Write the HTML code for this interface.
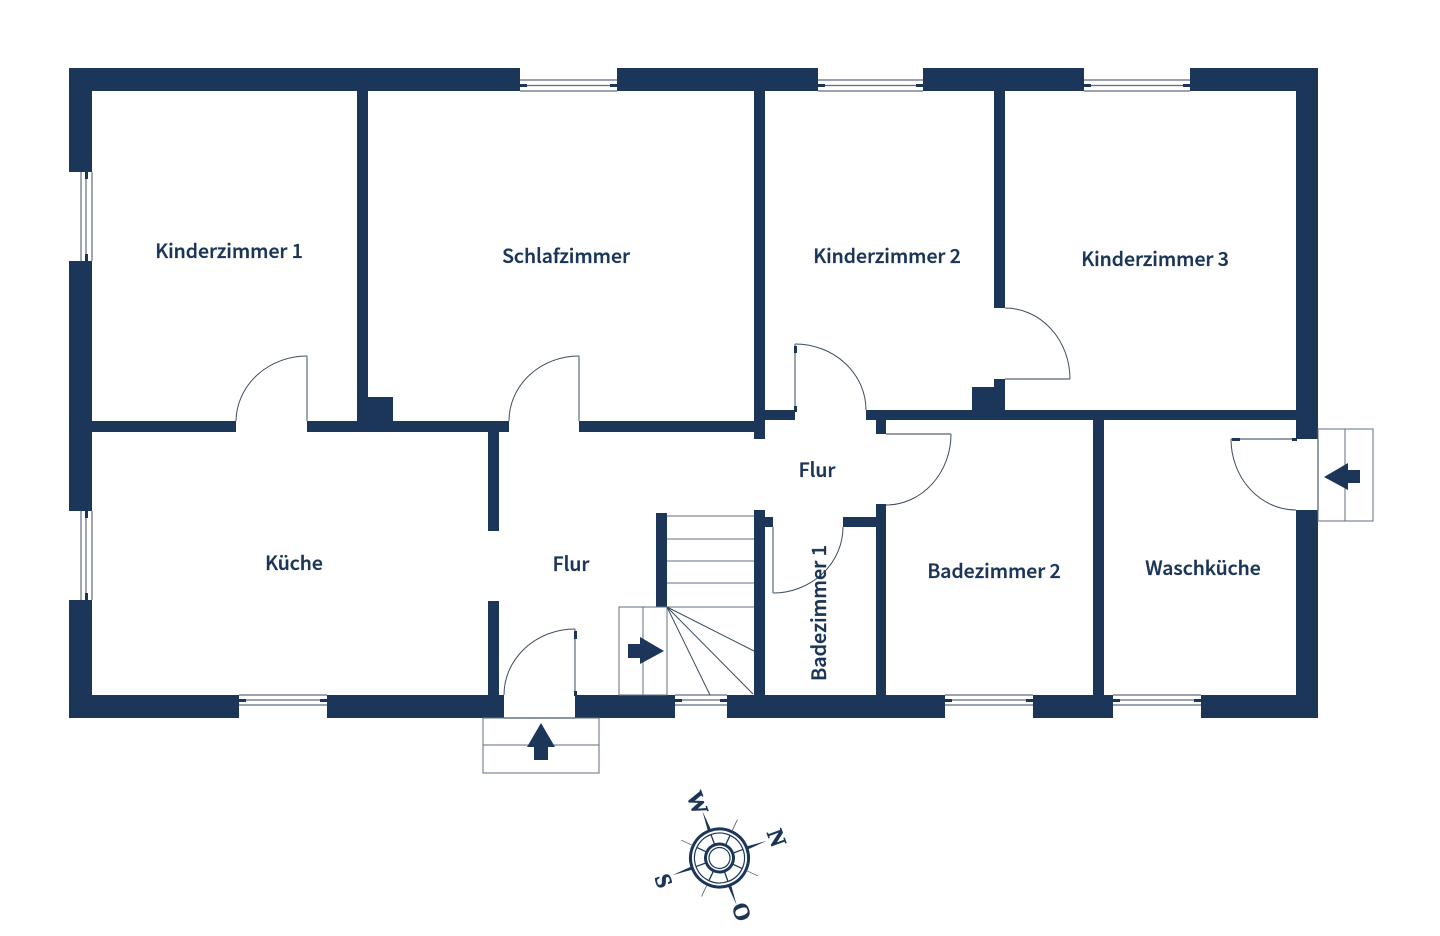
<!DOCTYPE html>
<html><head><meta charset="utf-8"><style>
html,body{margin:0;padding:0;background:#fff;width:1440px;height:936px;overflow:hidden}
svg{display:block}
text{font-family:"Noto Sans CJK JP","Liberation Sans",sans-serif;font-weight:500;font-size:19.4px;fill:#1b3557;stroke:#1b3557;stroke-width:.35px;text-anchor:middle}
</style></head><body>
<svg width="1440" height="936" viewBox="0 0 1440 936" xmlns="http://www.w3.org/2000/svg">
<rect width="1440" height="936" fill="#fff"/>
<g fill="#1b3659">
<!-- top wall -->
<rect x="69" y="68" width="451" height="23"/><rect x="617" y="68" width="201" height="23"/><rect x="923" y="68" width="161" height="23"/><rect x="1190" y="68" width="128" height="23"/>
<!-- left wall -->
<rect x="69" y="68" width="23" height="104"/><rect x="69" y="261" width="23" height="250"/><rect x="69" y="600" width="23" height="118"/>
<!-- right wall -->
<rect x="1296" y="68" width="22" height="371"/><rect x="1296" y="510" width="22" height="208"/>
<!-- bottom wall -->
<rect x="69" y="695" width="170" height="23"/><rect x="327" y="695" width="177" height="23"/><rect x="575" y="695" width="100" height="23"/><rect x="727" y="695" width="218" height="23"/><rect x="1033" y="695" width="80" height="23"/><rect x="1201" y="695" width="117" height="23"/>
<!-- interior -->
<rect x="357" y="91" width="11" height="330"/><rect x="368" y="397" width="25" height="24"/>
<rect x="92" y="421" width="144" height="11"/><rect x="307" y="421" width="202" height="11"/><rect x="579" y="421" width="175" height="11"/>
<rect x="488" y="432" width="11" height="99"/><rect x="488" y="601" width="11" height="94"/>
<rect x="754" y="91" width="11" height="348"/><rect x="765" y="410" width="30" height="10"/>
<rect x="866" y="410" width="430" height="10"/><rect x="876" y="420" width="10" height="14"/>
<rect x="876" y="504" width="10" height="191"/><rect x="843" y="517" width="33" height="10"/>
<rect x="994" y="91" width="11" height="217"/><rect x="994" y="379" width="11" height="31"/><rect x="972" y="387" width="22" height="23"/>
<rect x="1093" y="420" width="11" height="275"/>
<rect x="656" y="513" width="11" height="94"/><rect x="754" y="510" width="11" height="185"/><rect x="765" y="517" width="8" height="10"/>
</g>
<!-- windows -->
<g stroke="#5f6e7d" stroke-width="1.2" fill="none">
<path d="M520 80H617M520 85.500H617M520 91H617"/>
<path d="M818 80H923M818 85.500H923M818 91H923"/>
<path d="M1084 80H1190M1084 85.500H1190M1084 91H1190"/>
<path d="M81 172V261M86 172V261M92 172V261"/>
<path d="M81 511V600M86 511V600M92 511V600"/>
<path d="M239 695H327M239 700H327M239 705H327"/>
<path d="M675 695H727M675 700H727M675 705H727"/>
<path d="M945 695H1033M945 700H1033M945 705H1033"/>
<path d="M1113 695H1201M1113 700H1201M1113 705H1201"/>
</g>
<g fill="#1b3659">
<rect x="520" y="84" width="7" height="3"/><rect x="610" y="84" width="7" height="3"/>
<rect x="818" y="84" width="7" height="3"/><rect x="916" y="84" width="7" height="3"/>
<rect x="1084" y="84" width="7" height="3"/><rect x="1183" y="84" width="7" height="3"/>
<rect x="85" y="172" width="3" height="7"/><rect x="85" y="254" width="3" height="7"/>
<rect x="85" y="511" width="3" height="7"/><rect x="85" y="593" width="3" height="7"/>
<rect x="239" y="699" width="7" height="3"/><rect x="320" y="699" width="7" height="3"/>
<rect x="675" y="699" width="7" height="3"/><rect x="720" y="699" width="7" height="3"/>
<rect x="945" y="699" width="7" height="3"/><rect x="1026" y="699" width="7" height="3"/>
<rect x="1113" y="699" width="7" height="3"/><rect x="1194" y="699" width="7" height="3"/>
</g>
<!-- doors -->
<g fill="none" stroke="#3d4d5e" stroke-width="1">
<path d="M236 421A71 66 0 0 1 307 356"/>
<path d="M509 421A70 65 0 0 1 579 356"/>
<path d="M795 344A71 66 0 0 1 866 410"/>
<path d="M1005 308A65 71 0 0 1 1070 379"/>
<path d="M951 434A65 71 0 0 1 886 505"/>
<path d="M843 527A70 66 0 0 1 773 593"/>
<path d="M504 695A71 66 0 0 1 575 629"/>
<path d="M1231 439A65 71 0 0 0 1296 510"/>
</g>
<g fill="none" stroke="#717f8d" stroke-width="1.4">
<path d="M307 356V421"/><path d="M579 356V421"/>
<path d="M795 344V410"/><path d="M1005 379H1070"/><path d="M886 434H951"/>
<path d="M773 527V593"/><path d="M575 629V695"/><path d="M1231 439H1296"/>
<path d="M1318 439V510"/>
<path d="M504 718H575"/>
</g>
<g fill="#1b3659">
<rect x="794" y="346" width="3" height="7"/><rect x="794" y="406" width="3" height="6"/>
<rect x="574" y="631" width="3" height="8"/><rect x="574" y="691" width="3" height="5"/>
<rect x="1232" y="438" width="8" height="3"/><rect x="1292" y="438" width="5" height="3"/>
</g>
<!-- stairs -->
<g fill="none" stroke="#5f6e7d" stroke-width="1">
<path d="M667 516H754M667 539H754M667 561H754M667 583H754M667 607H754"/>
<rect x="619" y="607" width="48" height="88"/>
<path d="M643 607V695"/>
<rect x="483" y="718" width="116" height="55"/><path d="M483 745H599"/>
<rect x="1318" y="429" width="55" height="92"/><path d="M1345 429V521"/>
</g>
<g fill="none" stroke="#3d4d5e" stroke-width="1">
<path d="M667 607L754 651M667 607L753 694M667 607L710 695"/>
</g>
<!-- arrows -->
<g fill="#1b3659">
<path d="M628 644H640V637L664 651L640 664V658H628Z"/>
<path d="M534 760V747H527L541 723L555 747H548V760Z"/>
<path d="M1360 470H1348V463L1324 477L1348 490V483H1360Z"/>
</g>
<!-- labels -->
<text x="229" y="258">Kinderzimmer 1</text>
<text x="566" y="263">Schlafzimmer</text>
<text x="887" y="263">Kinderzimmer 2</text>
<text x="1155" y="266">Kinderzimmer 3</text>
<text x="294" y="570">Küche</text>
<text x="571" y="571">Flur</text>
<text x="817" y="477">Flur</text>
<text x="994" y="578">Badezimmer 2</text>
<text x="1203" y="575">Waschküche</text>
<text transform="translate(826 613) rotate(-90)" x="0" y="0" style="font-size:19.800px">Badezimmer 1</text>
<!-- compass -->
<g transform="translate(719.500 858) rotate(70)" fill="none" stroke="#1b3659">
<circle r="29" stroke-width="3"/><circle r="25" stroke-width="1.2"/>
<circle r="14" stroke-width="3"/><circle r="10.500" stroke-width="1.2"/>
<g stroke-width="1.3">
<path d="M0 -15V-25M0 15V25M-15 0H-25M15 0H25M-10.600 -10.600L-17.700 -17.700M10.600 -10.600L17.700 -17.700M-10.600 10.600L-17.700 17.700M10.600 10.600L17.700 17.700"/>
</g>
<g fill="#1b3659" stroke="none">
<path d="M-1.600 -30L0 -50L1.600 -30Z"/><path d="M-1.600 30L0 50L1.600 30Z"/><path d="M-30 -1.600L-50 0L-30 1.600Z"/><path d="M30 -1.600L50 0L30 1.600Z"/>
</g>
<path stroke-width=".8" stroke="#4a5f78" d="M21 -21L30 -30M-21 -21L-30 -30M21 21L30 30M-21 21L-30 30"/>
</g>
<g>
<text transform="translate(776 838) rotate(70)" style="font-family:'Liberation Serif',serif;font-weight:700;font-size:23px;stroke-width:.6px" y="7">N</text>
<text transform="translate(741 912) rotate(70)" style="font-family:'Liberation Serif',serif;font-weight:700;font-size:23px;stroke-width:.6px" y="7">O</text>
<text transform="translate(663 881) rotate(70)" style="font-family:'Liberation Serif',serif;font-weight:700;font-size:23px;stroke-width:.6px" y="7">S</text>
<text transform="translate(697 803) rotate(70)" style="font-family:'Liberation Serif',serif;font-weight:700;font-size:23px;stroke-width:.6px" y="7">W</text>
</g>
</svg>
</body></html>
